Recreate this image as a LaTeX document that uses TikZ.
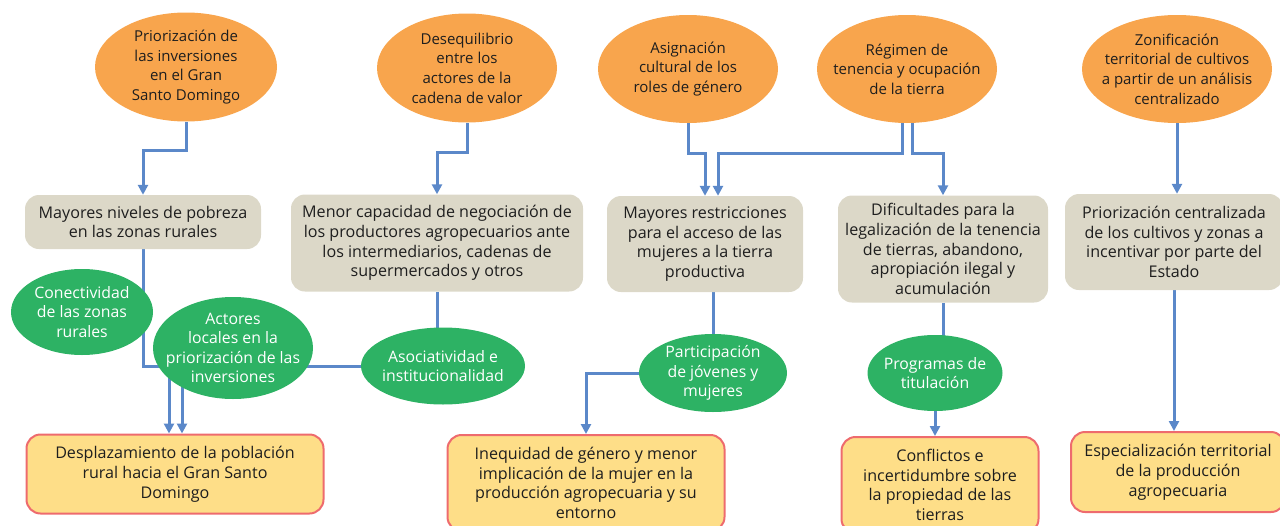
\documentclass[tikz,border=0pt]{standalone}
\usepackage{fontspec}
\setmainfont{Open Sans}
\usetikzlibrary{shapes.geometric,arrows.meta,backgrounds}
\definecolor{causa}{HTML}{F8A54D}
\definecolor{efecto}{HTML}{DCD8C8}
\definecolor{palanca}{HTML}{2DB264}
\definecolor{final}{HTML}{FEDE88}
\definecolor{borde}{HTML}{EE6B6E}
\definecolor{enlace}{HTML}{5B88C9}
\definecolor{tinta}{HTML}{1E1E1E}
\tikzset{
  texto/.style={font=\fontsize{16.1}{19.8}\selectfont, align=center, inner sep=0pt},
  raiz/.style={texto, font=\fontsize{15}{19.6}\selectfont, ellipse, inner sep=-30pt, fill=causa, text=tinta},
  medio/.style={texto, rounded corners=14pt, fill=efecto, text=tinta},
  accion/.style={texto, font=\fontsize{15.8}{19.6}\selectfont, ellipse, inner sep=-30pt, fill=palanca, text=white},
  meta/.style={texto, rounded corners=14pt, fill=final, draw=borde, line width=2pt, text=tinta},
  tramo/.style={draw=enlace, line width=3pt},
  link/.style={tramo, -{Triangle[length=10pt,width=10pt]}},
}

\begin{document}
\begin{tikzpicture}[x=1pt, y=-1pt]
    \useasboundingbox (0,0) rectangle (1280,525);

    % causas
    \node[raiz, minimum width=182, minimum height=109] at (186,67) (O1) {Priorización de\\las inversiones\\en el Gran\\Santo Domingo};
    \node[raiz, minimum width=180, minimum height=109] at (467,68) (O2) {Desequilibrio\\entre los\\actores de la\\cadena de valor};
    \node[raiz, minimum width=180, minimum height=108] at (688,69) (O3) {Asignación\\cultural de los\\roles de género};
    \node[raiz, minimum width=180, minimum height=108] at (907,69) (O4) {Régimen de\\tenencia y ocupación\\de la tierra};
    \node[raiz, minimum width=190, minimum height=108] at (1177,69) (O5) {Zonificación\\territorial de cultivos\\a partir de un análisis\\centralizado};

    % efectos
    \node[medio, minimum width=236, minimum height=54] at (143,222) (A) {Mayores niveles de pobreza\\en las zonas rurales};
    \node[medio, minimum width=292, minimum height=97] at (437,243) (B) {Menor capacidad de negociación de\\los productores agropecuarios ante\\los intermediarios, cadenas de\\supermercados y otros};
    \node[medio, minimum width=196, minimum height=96] at (705,244) (C) {Mayores restricciones\\para el acceso de las\\mujeres a la tierra\\productiva};
    \node[medio, minimum width=210, minimum height=107] at (943,249) (D) {Dificultades para la\\legalización de la tenencia\\de tierras, abandono,\\apropiación ilegal y\\acumulación};
    \node[medio, minimum width=218, minimum height=96] at (1174,242) (E) {Priorización centralizada\\de los cultivos y zonas a\\incentivar por parte del\\Estado};

    % acciones
    \node[accion, minimum width=142, minimum height=86] at (82,312) (G1) {Conectividad\\de las zonas\\rurales};
    \node[accion, minimum width=160, minimum height=102] at (233,348) (G2) {Actores\\locales en la\\priorización de las\\inversiones};
    \node[accion, minimum width=164, minimum height=77] at (443,366) (G3) {Asociatividad e\\institucionalidad};
    \node[accion, minimum width=148, minimum height=78] at (713,373) (G4) {Participación\\de jóvenes y\\mujeres};
    \node[accion, minimum width=135, minimum height=76] at (935,373) (G5) {Programas de\\titulación};

    % resultados
    \node[meta, minimum width=297, minimum height=79] at (175,474) (Y1) {Desplazamiento de la población\\rural hacia el Gran Santo\\Domingo};
    \node[meta, minimum width=277, minimum height=96] at (586,483) (Y2) {Inequidad de género y menor\\implicación de la mujer en la\\producción agropecuaria y su\\entorno};
    \node[meta, minimum width=197, minimum height=96] at (940,485) (Y3) {Conflictos e\\incertidumbre sobre\\la propiedad de las\\tierras};
    \node[meta, minimum width=214, minimum height=80] at (1178,472) (Y4) {Especialización territorial\\de la producción\\agropecuaria};

    \begin{scope}[on background layer]
    \draw[link] (O1.south) -- ++(0,29) -| (A.north);
    \draw[link] (O2.south) -- ++(0,30) -| (B.north);
    \draw[link] (O3.south) -- ++(0,30) -| (C.north);
    \draw[link] ([xshift=-5]O4.south) -- ++(0,30) -| ([xshift=13]C.north);
    \draw[link] ([xshift=5]O4.south) -- ++(0,30) -| (D.north);
    \draw[link] (O5.south) -- (O5.south |- E.north);
    \draw[link] (A.south) -- (A.south |- G3) -| ([xshift=-6]Y1.north);
    \draw[tramo] (B.south) -- (B.south |- G3);
    \draw[link] (G3) -| ([xshift=7]Y1.north);
    \draw[tramo] (G4) -- (G4 |- C.south);
    \draw[link] (G4) -| (Y2.north);
    \draw[tramo] (D.south) -- (D.south |- G5);
    \draw[link] (G5.south) -- (G5.south |- Y3.north);
    \draw[link] (E.south) -- (E.south |- Y4.north);
    \end{scope}
\end{tikzpicture}
\end{document}
